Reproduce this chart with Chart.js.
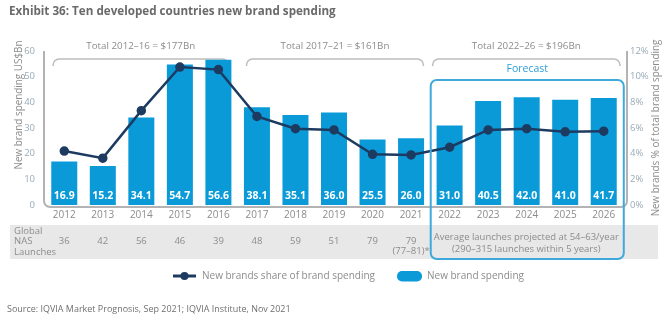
<!DOCTYPE html>
<html>
<head>
<meta charset="utf-8">
<script src="https://cdn.jsdelivr.net/npm/chart.js@4.4.1/dist/chart.umd.min.js"></script>
<style>
  html, body { margin: 0; padding: 0; background: #fff; }
  #wrap { position: relative; width: 672px; height: 321px; }
</style>
</head>
<body>
<div id="wrap"><canvas id="grafico" width="672" height="321"></canvas></div>
<script>
// Datos del gráfico
const years = ['2012', '2013', '2014', '2015', '2016', '2017', '2018', '2019', '2020', '2021', '2022', '2023', '2024', '2025', '2026'];
const spending = [16.9, 15.2, 34.1, 54.7, 56.6, 38.1, 35.1, 36.0, 25.5, 26.0, 31.0, 40.5, 42.0, 41.0, 41.7];
const sharePct = [4.2, 3.65, 7.35, 10.75, 10.55, 6.9, 5.95, 5.85, 3.95, 3.9, 4.5, 5.85, 5.95, 5.7, 5.75];
const launches = ['36', '42', '56', '46', '39', '48', '59', '51', '79', '79', '', '', '', '', ''];
const launchNotes = ['', '', '', '', '', '', '', '', '', '(77–81)*', '', '', '', '', ''];
const periodLabels = ['Total 2012–16 = $177Bn', 'Total 2017–21 = $161Bn', 'Total 2022–26 = $196Bn'];
const periodFrom = [-0.29, 4.73, 9.56];
const periodTo = [4.26, 9.32, 14.42];
const forecastLines = ['Average launches projected at 54–63/year', '(290–315 launches within 5 years)'];
const leftTicks = [0, 10, 20, 30, 40, 50, 60];
const rightTicks = [0, 2, 4, 6, 8, 10, 12];

const AZUL = '#0a9ad8';
const NAVY = '#1d3b61';
const GRIS = '#8c8c8c';
const FONT = "'Open Sans', sans-serif";

function roundRect(ctx, x, y, w, h, r) {
  ctx.beginPath();
  ctx.moveTo(x + r, y);
  ctx.arcTo(x + w, y, x + w, y + h, r);
  ctx.arcTo(x + w, y + h, x, y + h, r);
  ctx.arcTo(x, y + h, x, y, r);
  ctx.arcTo(x, y, x + w, y, r);
  ctx.closePath();
}

// ajusta el tamaño de fuente para que el texto ocupe el ancho indicado
function fitFont(ctx, text, width, weight) {
  ctx.font = (weight || '') + ' 10px ' + FONT;
  const size = 10 * width / ctx.measureText(text).width;
  ctx.font = (weight || '') + ' ' + size.toFixed(2) + 'px ' + FONT;
}

const decoraciones = {
  id: 'decoraciones',
  beforeDraw(chart) {
    const ctx = chart.ctx;
    const x = chart.scales.x;
    ctx.save();
    // banda gris de la tabla
    ctx.fillStyle = '#e8e8e8';
    ctx.fillRect(10, 225, 648, 34);

    // titulo
    ctx.fillStyle = '#6a6a6a';
    ctx.textBaseline = 'middle';
    ctx.textAlign = 'left';
    const titulo = 'Exhibit 36: Ten developed countries new brand spending';
    fitFont(ctx, titulo, 327, 'bold');
    ctx.fillText(titulo, 9, 12);

    // fuente
    ctx.fillStyle = '#6f6f6f';
    const fuente = 'Source: IQVIA Market Prognosis, Sep 2021; IQVIA Institute, Nov 2021';
    fitFont(ctx, fuente, 284);
    ctx.fillText(fuente, 7, 309);

    // tabla de lanzamientos
    ctx.fillStyle = GRIS;
    ctx.font = '9.5px ' + FONT;
    ctx.fillText('Global', 14, 231);
    ctx.fillText('NAS', 14, 241.5);
    ctx.fillText('Launches', 14, 252);
    ctx.textAlign = 'center';
    launches.forEach((v, i) => {
      if (!v) return;
      const px = x.getPixelForValue(i);
      ctx.fillText(v, px, 241.5);
      if (launchNotes[i]) ctx.fillText(launchNotes[i], px, 251);
    });
    const fc = (x.getPixelForValue(periodFrom[2]) + x.getPixelForValue(periodTo[2])) / 2;
    fitFont(ctx, forecastLines[0], 185);
    ctx.fillText(forecastLines[0], fc, 237);
    ctx.fillText(forecastLines[1], fc, 249);

    // llaves de totales
    ctx.strokeStyle = '#bdbdbd';
    ctx.lineWidth = 1.5;
    periodLabels.forEach((lab, k) => {
      const x1 = x.getPixelForValue(periodFrom[k]);
      const x2 = x.getPixelForValue(periodTo[k]);
      ctx.beginPath();
      ctx.moveTo(x1, 66);
      ctx.arcTo(x1, 59, x1 + 7, 59, 6);
      ctx.arcTo(x2, 59, x2, 66, 6);
      ctx.lineTo(x2, 66);
      ctx.stroke();
      ctx.fillStyle = GRIS;
      fitFont(ctx, periodLabels[0], 109);
      ctx.fillText(lab, (x1 + x2) / 2, 46);
    });

    // marco de ejes
    const a = chart.chartArea;
    ctx.strokeStyle = '#b3b3b3';
    ctx.lineWidth = 2;
    ctx.beginPath();
    ctx.moveTo(a.left - 1, a.top);
    ctx.arcTo(a.left - 1, a.bottom + 2, a.left + 8, a.bottom + 2, 6);
    ctx.arcTo(a.right + 4, a.bottom + 2, a.right + 4, a.top, 6);
    ctx.lineTo(a.right + 4, a.top);
    ctx.stroke();

    // titulos de ejes
    ctx.fillStyle = GRIS;
    const tIzq = 'New brand spending US$Bn';
    const tDer = 'New brands % of total brand spending';
    fitFont(ctx, tDer, 177);
    ctx.save();
    ctx.translate(19, 105);
    ctx.rotate(-Math.PI / 2);
    ctx.fillText(tIzq, 0, 0);
    ctx.restore();
    ctx.save();
    ctx.translate(656, 128);
    ctx.rotate(-Math.PI / 2);
    ctx.fillText(tDer, 0, 0);
    ctx.restore();

    // leyenda
    ctx.strokeStyle = NAVY;
    ctx.fillStyle = NAVY;
    ctx.lineWidth = 3;
    ctx.beginPath();
    ctx.moveTo(173, 276);
    ctx.lineTo(196, 276);
    ctx.stroke();
    ctx.beginPath();
    ctx.arc(184.5, 276, 4, 0, Math.PI * 2);
    ctx.fill();
    ctx.fillStyle = AZUL;
    roundRect(ctx, 397, 271, 25, 10.5, 5);
    ctx.fill();
    ctx.fillStyle = GRIS;
    ctx.textAlign = 'left';
    fitFont(ctx, chart.data.datasets[0].label, 173);
    ctx.fillText(chart.data.datasets[0].label, 202, 276);
    ctx.fillText(chart.data.datasets[1].label, 427, 276);
    ctx.restore();
  },
  afterDatasetsDraw(chart) {
    const ctx = chart.ctx;
    const meta = chart.getDatasetMeta(1);
    ctx.save();
    ctx.fillStyle = '#ffffff';
    ctx.font = 'bold 10.5px ' + FONT;
    ctx.textAlign = 'center';
    ctx.textBaseline = 'middle';
    meta.data.forEach((bar, i) => {
      ctx.fillText(spending[i].toFixed(1), bar.x, 196.5);
    });
    ctx.restore();
  },
  afterDraw(chart) {
    const ctx = chart.ctx;
    const x = chart.scales.x;
    const x1 = x.getPixelForValue(9.51);
    const x2 = x.getPixelForValue(14.52);
    ctx.save();
    ctx.strokeStyle = '#3fa9dc';
    ctx.lineWidth = 2;
    roundRect(ctx, x1, 80, x2 - x1, 179, 6);
    ctx.stroke();
    ctx.fillStyle = '#2e9fd6';
    ctx.font = '10.5px ' + FONT;
    ctx.textAlign = 'center';
    ctx.textBaseline = 'middle';
    ctx.fillText('Forecast', (x1 + x2) / 2, 69);
    ctx.restore();
  }
};

const ctx = document.getElementById('grafico').getContext('2d');
new Chart(ctx, {
  type: 'bar',
  data: {
    labels: years,
    datasets: [
      {
        type: 'line',
        label: 'New brands share of brand spending',
        data: sharePct,
        yAxisID: 'y1',
        borderColor: NAVY,
        backgroundColor: NAVY,
        borderWidth: 2.5,
        pointRadius: 3.5,
        pointBackgroundColor: NAVY,
        tension: 0,
        order: 0
      },
      {
        label: 'New brand spending',
        data: spending,
        yAxisID: 'y',
        backgroundColor: AZUL,
        categoryPercentage: 1,
        barPercentage: 0.675,
        order: 1
      }
    ]
  },
  options: {
    responsive: false,
    animation: false,
    events: [],
    layout: { padding: { top: 51, left: 0, right: 0, bottom: 0 } },
    plugins: { legend: { display: false }, tooltip: { enabled: false }, title: { display: false } },
    scales: {
      x: {
        grid: { display: false, drawTicks: false },
        border: { display: false },
        ticks: { color: GRIS, font: { family: FONT, size: 10 }, padding: 4, maxRotation: 0 },
        afterFit(s) { s.height = 116; }
      },
      y: {
        position: 'left',
        min: 0, max: 60,
        grid: { display: false, drawTicks: false },
        border: { display: false },
        afterBuildTicks(s) { s.ticks = leftTicks.map(v => ({ value: v })); },
        ticks: { color: '#9aabb8', font: { family: FONT, size: 9.5 }, padding: 10 },
        afterFit(s) { s.width = 45; }
      },
      y1: {
        position: 'right',
        min: 0, max: 12,
        grid: { display: false, drawTicks: false },
        border: { display: false },
        afterBuildTicks(s) { s.ticks = rightTicks.map(v => ({ value: v })); },
        ticks: { color: '#9aabb8', font: { family: FONT, size: 9.5 }, padding: 7, callback: v => v + '%' },
        afterFit(s) { s.width = 49; }
      }
    }
  },
  plugins: [decoraciones]
});
</script>
</body>
</html>
